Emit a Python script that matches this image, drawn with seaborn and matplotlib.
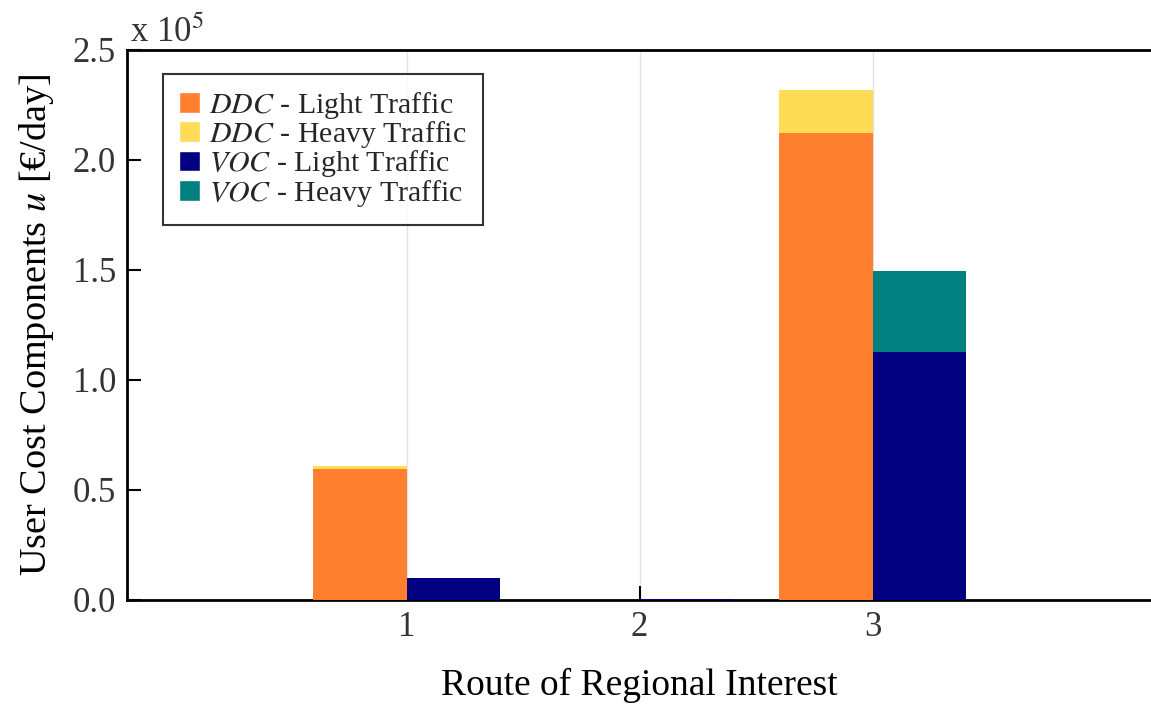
import numpy as np
import pandas as pd
import matplotlib
matplotlib.use("Agg")
import matplotlib.pyplot as plt
import seaborn as sns
from matplotlib.patches import Patch

routes = [1, 2, 3]
ddc_light = [0.597, 0.0, 2.123]
ddc_heavy = [0.012, 0.0, 0.195]
voc_light = [0.100, 0.004, 1.127]
voc_heavy = [0.0, 0.0, 0.368]
scale_exp = 5

c_ddc_light = "#FE7F2D"
c_ddc_heavy = "#FEDC55"
c_voc_light = "#000080"
c_voc_heavy = "#008080"

sns.set_style("white")
plt.rcParams["font.family"] = ["Liberation Serif", "DejaVu Serif"]
plt.rcParams["mathtext.fontset"] = "stix"

rows = []
for i, r in enumerate(routes):
    rows.append(dict(route=r, comp="DDC", light=ddc_light[i], total=ddc_light[i] + ddc_heavy[i]))
    rows.append(dict(route=r, comp="VOC", light=voc_light[i], total=voc_light[i] + voc_heavy[i]))
df = pd.DataFrame(rows)

fig = plt.figure(figsize=(11.51, 7.06), dpi=100)
ax = fig.add_axes([127 / 1151, 1 - 600 / 706, 1 - 127 / 1151 + 0.001, 550 / 706])

sns.barplot(data=df, x="route", y="total", hue="comp", native_scale=True,
            palette={"DDC": c_ddc_heavy, "VOC": c_voc_heavy}, width=0.8,
            saturation=1, errorbar=None, legend=False, ax=ax, linewidth=0, zorder=2)
sns.barplot(data=df, x="route", y="light", hue="comp", native_scale=True,
            palette={"DDC": c_ddc_light, "VOC": c_voc_light}, width=0.8,
            saturation=1, errorbar=None, legend=False, ax=ax, linewidth=0, zorder=3)

ax.set_xlim(-0.2, 4.2)
ax.set_ylim(0, 2.5)
ax.set_xticks(routes)
ax.set_xticklabels([str(r) for r in routes])
ax.set_yticks([0, 0.5, 1.0, 1.5, 2.0, 2.5])
ax.set_yticklabels(["0.0", "0.5", "1.0", "1.5", "2.0", "2.5"])
ax.tick_params(axis="both", which="major", bottom=True, left=True, top=False, right=False,
               direction="in", length=10, width=1.5, labelsize=25,
               labelcolor="#333333", color="black", pad=8)
ax.xaxis.grid(True, color="#e3e3e3", linewidth=1, zorder=0)
ax.yaxis.grid(False)
ax.set_axisbelow(True)
for s in ["left", "bottom", "top", "right"]:
    ax.spines[s].set_color("black")
    ax.spines[s].set_linewidth(2)

ax.set_xlabel("Route of Regional Interest", fontsize=27, labelpad=17, color="black")
ax.set_ylabel(r"User Cost Components $u$ [€/day]", fontsize=27.5, labelpad=12, color="black")
ax.text(0.003, 1.0, r"x 10$^{%d}$" % scale_exp, transform=ax.transAxes,
        fontsize=25, color="#333333", ha="left", va="bottom")

handles = [Patch(facecolor=c_ddc_light, label=r"$DDC$ - Light Traffic"),
           Patch(facecolor=c_ddc_heavy, label=r"$DDC$ - Heavy Traffic"),
           Patch(facecolor=c_voc_light, label=r"$VOC$ - Light Traffic"),
           Patch(facecolor=c_voc_heavy, label=r"$VOC$ - Heavy Traffic")]
leg = ax.legend(handles=handles, loc="upper left", bbox_to_anchor=(0.035, 0.957),
                borderaxespad=0, fontsize=21.5, frameon=True, fancybox=False,
                edgecolor="black", handlelength=0.7, handleheight=0.7,
                handletextpad=0.3, labelspacing=-0.06, borderpad=0.55)
leg.get_frame().set_linewidth(1.5)

fig.savefig("out.png", dpi=100)
